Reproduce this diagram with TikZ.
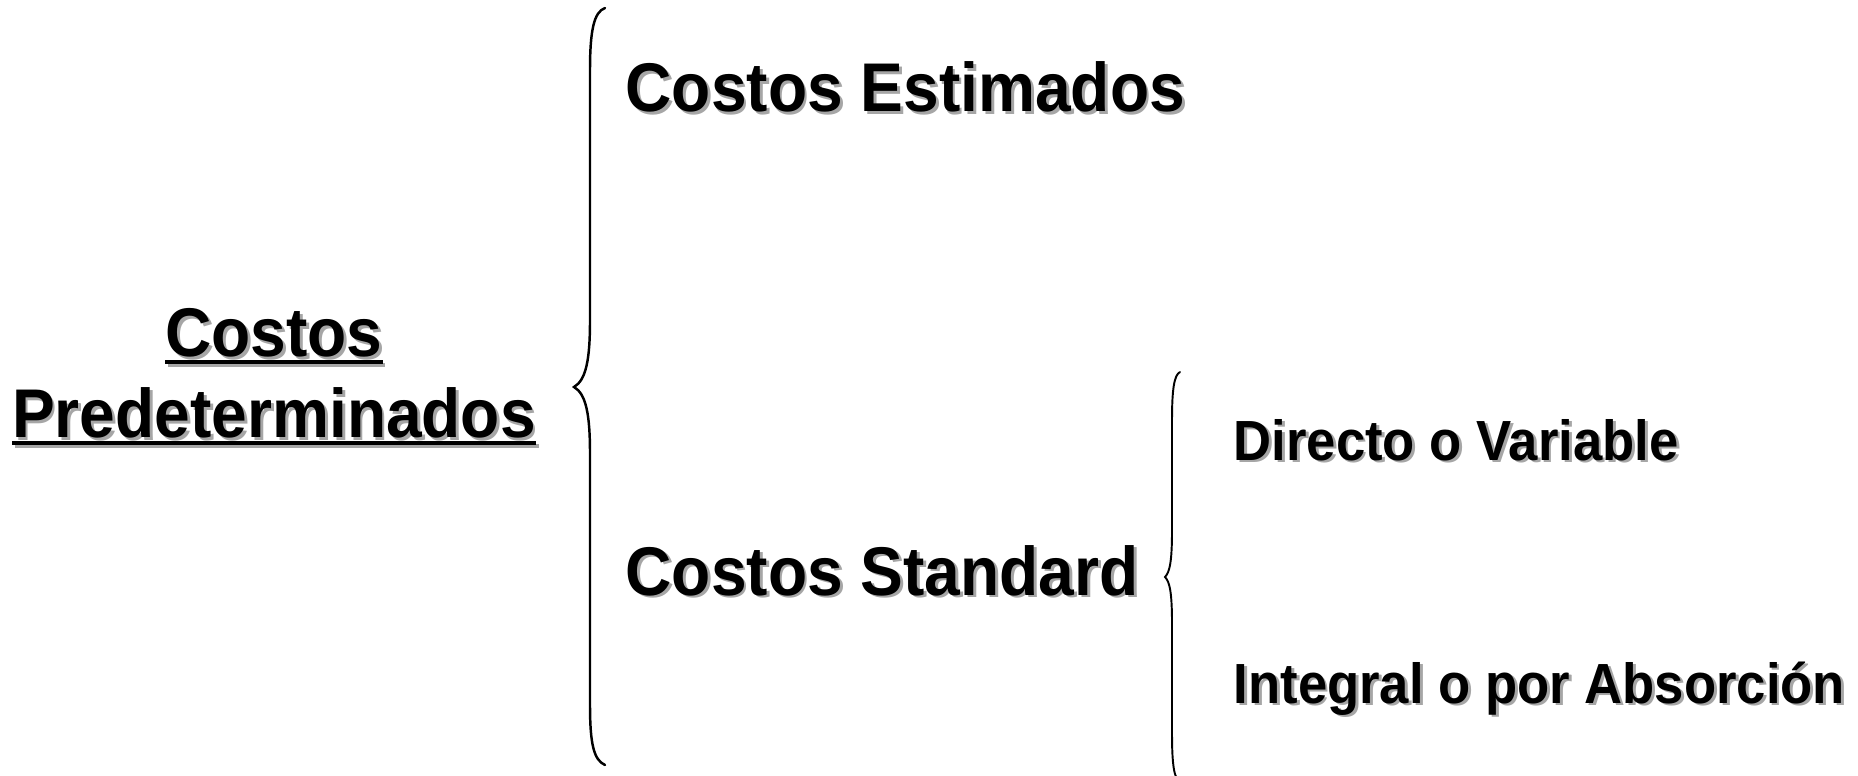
\documentclass[tikz,border=0pt]{standalone}
\usepackage{fontspec}
\setmainfont{Liberation Sans}[FakeStretch=0.93]
\usepackage{xcolor}
\usetikzlibrary{positioning}

\definecolor{shadowgray}{gray}{0.65}
\newlength\ulwd
% text with a grey drop shadow
\newcommand{\shtxt}[1]{\leavevmode\rlap{\kern0.8pt\raisebox{-0.8pt}{\color{shadowgray}#1}}#1}
\newcommand{\ulin}[1]{\settowidth\ulwd{#1}\rlap{\rule[-2.2pt]{\ulwd}{1.1pt}}#1}

\begin{document}
\begin{tikzpicture}[x=0.01cm, y=-0.01cm,
    big/.style={inner sep=0pt, font=\fontsize{19.6pt}{23pt}\selectfont\bfseries},
    small/.style={inner sep=0pt, font=\fontsize{16.1pt}{18pt}\selectfont\bfseries},
    brace/.style={line width=0.7pt, line cap=round}]
            \useasboundingbox (0,0) rectangle (1858,776);
            \clip (0,0) rectangle (1858,776);

            \node[big, align=center] at (274,378) (pred) {\shtxt{\ulin{Costos}}\\\shtxt{\ulin{Predeterminados}}};
            \node[big, anchor=base west] at (625,112) (est) {\shtxt{Costos Estimados}};
            \node[big, anchor=base west] at (625,595) (std) {\shtxt{Costos Standard}};
            \node[small, anchor=base west] at (1233,460) (dir) {\shtxt{Directo o Variable}};
            \node[small, anchor=base west] at (1233,703) (integ) {\shtxt{Integral o por Absorción}};

            % big brace
            \draw[brace] (605,8) .. controls (594,12) and (590,30) .. (590,70) -- (590,320)
                .. controls (590,360) and (586,380) .. (574,387)
                .. controls (586,394) and (590,414) .. (590,454) -- (590,705)
                .. controls (590,745) and (594,760) .. (605,765);
            % small brace
            \draw[brace, line width=0.55pt] (1180,372) .. controls (1174,375) and (1172,390) .. (1172,420) -- (1172,530)
                .. controls (1172,560) and (1170,572) .. (1165,577)
                .. controls (1170,582) and (1172,594) .. (1172,624) -- (1172,734)
                .. controls (1172,764) and (1174,779) .. (1180,782);
        \end{tikzpicture}
\end{document}
